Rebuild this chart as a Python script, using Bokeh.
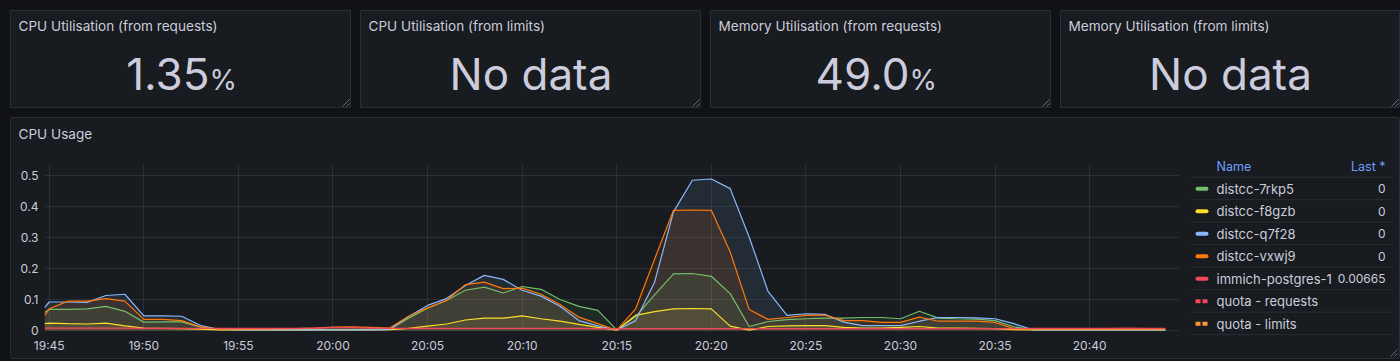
import pandas as pd
from bokeh.plotting import figure
from bokeh.layouts import row, column
from bokeh.models import (Range1d, FixedTicker, DatetimeTickFormatter, CustomJSTickFormatter,
                          GlobalInlineStyleSheet)
from bokeh.embed import file_html
from bokeh.resources import INLINE
from bokeh.core.properties import value

# ---------------- data ----------------
stat_titles = ["CPU Utilisation (from requests)", "CPU Utilisation (from limits)",
               "Memory Utilisation (from requests)", "Memory Utilisation (from limits)"]
stat_values = ["1.35", "No data", "49.0", "No data"]
stat_units = ["%", "", "%", ""]
chart_title = "CPU Usage"

day = "2024-01-01 "
times = [pd.Timestamp(day + "19:44:45")] + list(pd.date_range(day + "19:45", day + "20:44", freq="1min"))

# index 0 = 19:44:45, then 19:45 ... 20:44 every minute
distcc_7rkp5 = [0.058,
    0.068, 0.068, 0.070, 0.078, 0.062, 0.027, 0.028, 0.028, 0.011, 0.003,
    0.003, 0.002, 0.002, 0.003, 0.003, 0.004, 0.004, 0.004, 0.004, 0.040,
    0.072, 0.097, 0.130, 0.140, 0.121, 0.142, 0.133, 0.100, 0.078, 0.065,
    0.002, 0.045, 0.115, 0.183, 0.184, 0.175, 0.119, 0.013, 0.029, 0.035,
    0.038, 0.040, 0.040, 0.042, 0.042, 0.038, 0.062, 0.040, 0.038, 0.037,
    0.032, 0.012, 0.002, 0.002, 0.002, 0.002, 0.002, 0.002, 0.002, 0.002]
distcc_f8gzb = [0.022,
    0.024, 0.022, 0.021, 0.024, 0.015, 0.008, 0.007, 0.006, 0.004, 0.002,
    0.002, 0.002, 0.002, 0.002, 0.002, 0.002, 0.002, 0.002, 0.003, 0.007,
    0.014, 0.021, 0.034, 0.040, 0.040, 0.047, 0.038, 0.030, 0.020, 0.010,
    0.001, 0.049, 0.061, 0.070, 0.071, 0.070, 0.014, 0.001, 0.013, 0.015,
    0.016, 0.016, 0.010, 0.008, 0.008, 0.010, 0.013, 0.008, 0.008, 0.007,
    0.006, 0.003, 0.002, 0.002, 0.002, 0.002, 0.002, 0.002, 0.002, 0.002]
distcc_q7f28 = [0.074,
    0.092, 0.092, 0.091, 0.113, 0.117, 0.047, 0.047, 0.046, 0.016, 0.004,
    0.002, 0.002, 0.002, 0.002, 0.002, 0.002, 0.002, 0.002, 0.003, 0.045,
    0.081, 0.103, 0.145, 0.178, 0.165, 0.130, 0.111, 0.078, 0.032, 0.015,
    0.001, 0.032, 0.156, 0.383, 0.485, 0.489, 0.458, 0.302, 0.126, 0.049,
    0.054, 0.052, 0.027, 0.016, 0.016, 0.016, 0.030, 0.042, 0.042, 0.041,
    0.038, 0.022, 0.002, 0.002, 0.002, 0.002, 0.002, 0.002, 0.002, 0.002]
distcc_vxwj9 = [0.048,
    0.070, 0.095, 0.095, 0.103, 0.095, 0.036, 0.036, 0.032, 0.012, 0.004,
    0.004, 0.004, 0.005, 0.006, 0.008, 0.011, 0.012, 0.010, 0.008, 0.046,
    0.073, 0.097, 0.148, 0.156, 0.135, 0.137, 0.117, 0.084, 0.043, 0.022,
    0.001, 0.070, 0.230, 0.388, 0.389, 0.388, 0.253, 0.068, 0.036, 0.042,
    0.049, 0.050, 0.032, 0.032, 0.026, 0.026, 0.043, 0.030, 0.030, 0.030,
    0.026, 0.006, 0.004, 0.004, 0.004, 0.004, 0.004, 0.004, 0.004, 0.004]
immich_postgres_1 = [0.008,
    0.008, 0.008, 0.008, 0.008, 0.008, 0.007, 0.007, 0.007, 0.007, 0.007,
    0.007, 0.007, 0.007, 0.007, 0.008, 0.009, 0.009, 0.008, 0.007, 0.007,
    0.007, 0.007, 0.007, 0.007, 0.007, 0.007, 0.007, 0.007, 0.007, 0.006,
    0.006, 0.006, 0.006, 0.006, 0.006, 0.006, 0.006, 0.006, 0.006, 0.006,
    0.006, 0.006, 0.006, 0.006, 0.006, 0.006, 0.006, 0.006, 0.006, 0.006,
    0.006, 0.006, 0.007, 0.007, 0.007, 0.007, 0.007, 0.008, 0.007, 0.00665]

series_names = ["distcc-7rkp5", "distcc-f8gzb", "distcc-q7f28", "distcc-vxwj9", "immich-postgres-1"]
series_values = [distcc_7rkp5, distcc_f8gzb, distcc_q7f28, distcc_vxwj9, immich_postgres_1]
legend_names = series_names + ["quota - requests", "quota - limits"]
legend_last = ["0", "0", "0", "0", "0.00665", "", ""]

y_ticks = [0, 0.1, 0.2, 0.3, 0.4, 0.5]
x_tick_times = list(pd.date_range(day + "19:45", day + "20:40", freq="5min"))

# ---------------- style ----------------
PAGE = "#111217"
BG = "#181b1f"
BORDER = "#2b2e34"
TXT = "#ccccdc"
HEAD = "#6e9fff"
FONT = "Inter"
series_colors = ["#73bf69", "#fade2a", "#8ab8ff", "#ff780a", "#f2495c"]
legend_colors = series_colors + ["#f2495c", "#ff9830"]
legend_dashed = [False] * 5 + [True, True]

GAP = 9
stat_widths = [341, 341, 341, 340]
SH = 98
MH = 240          # inner height of the time-series panel
TH = 28           # title strip height
CW = 1176         # chart part width
LW = 212          # legend part width


def blank(fig):
    fig.axis.visible = False
    fig.grid.visible = False
    fig.background_fill_color = BG
    fig.border_fill_color = BG
    fig.frame_align = False


# ---------------- stat panels ----------------
stats = []
for i, SW in enumerate(stat_widths):
    s = figure(width=SW, height=SH, x_range=Range1d(0, SW), y_range=Range1d(SH, 0),
               output_backend="svg", toolbar_location=None, min_border=0)
    blank(s)
    s.outline_line_color = BORDER
    s.text(x=[8], y=[15], text=[stat_titles[i]], text_font=value(FONT), text_font_size="13.6px",
           text_color=TXT, text_baseline="middle", text_align="left")
    if stat_units[i]:
        split = 199
        s.text(x=[split], y=[63.5], text=[stat_values[i]], text_font=value(FONT), text_font_size="44px",
               text_color=TXT, text_baseline="middle", text_align="right")
        s.text(x=[split], y=[69], text=[stat_units[i]], text_font=value(FONT), text_font_size="28px",
               text_color=TXT, text_baseline="middle", text_align="left")
    else:
        s.text(x=[SW / 2], y=[63.5], text=[stat_values[i]], text_font=value(FONT), text_font_size="44px",
               text_color=TXT, text_baseline="middle", text_align="center")
    s.segment(x0=[SW - 2, SW - 2], y0=[SH - 9, SH - 5], x1=[SW - 9, SW - 5], y1=[SH - 2, SH - 2],
              line_color=TXT, line_alpha=0.45, line_width=1)
    stats.append(s)

# ---------------- title strip of the time-series panel ----------------
tf = figure(width=CW, height=TH, x_range=Range1d(0, CW), y_range=Range1d(TH, 0),
            output_backend="svg", toolbar_location=None, min_border=0)
blank(tf)
tf.outline_line_color = None
tf.text(x=[7], y=[15], text=[chart_title], text_font=value(FONT), text_font_size="13.6px",
        text_color=TXT, text_baseline="middle", text_align="left")

# ---------------- time series ----------------
p = figure(width=CW, height=MH - TH, x_axis_type="datetime",
           x_range=Range1d(pd.Timestamp(day + "19:44:45"), pd.Timestamp(day + "20:44:45")),
           y_range=Range1d(-0.0032, 0.539),
           output_backend="svg", toolbar_location=None,
           min_border_left=33, min_border_right=8, min_border_top=45 - TH, min_border_bottom=27)
p.frame_align = False
p.background_fill_color = BG
p.border_fill_color = BG
p.outline_line_color = None

for vals, col in zip(series_values, series_colors):
    p.varea(x=times, y1=0, y2=vals, fill_color=col, fill_alpha=0.1)
for vals, col in zip(series_values, series_colors):
    p.line(x=times, y=vals, line_color=col, line_width=1.2)

p.xaxis.ticker = FixedTicker(ticks=[t.value // 10**6 for t in x_tick_times])
fmt = "%H:%M"
p.xaxis.formatter = DatetimeTickFormatter(seconds=fmt, minsec=fmt, minutes=fmt, hourmin=fmt, hours=fmt,
                                          days=fmt, months=fmt, years=fmt)
p.yaxis.ticker = FixedTicker(ticks=y_ticks)
p.yaxis.formatter = CustomJSTickFormatter(code="return tick == 0 ? '0' : tick.toFixed(1);")
for ax in (p.xaxis, p.yaxis):
    ax.axis_line_color = None
    ax.major_tick_line_color = None
    ax.minor_tick_line_color = None
    ax.major_tick_in = 0
    ax.major_tick_out = 0
    ax.minor_tick_out = 0
    ax.major_label_text_color = TXT
    ax.major_label_text_font = FONT
    ax.major_label_text_font_size = "12px"
    ax.major_label_standoff = 6
p.grid.grid_line_color = TXT
p.grid.grid_line_alpha = 0.1

# ---------------- legend table ----------------
lg = figure(width=LW, height=MH, x_range=Range1d(0, LW), y_range=Range1d(MH, 0),
            output_backend="svg", toolbar_location=None, min_border=0)
blank(lg)
lg.outline_line_color = None
head_y = 47.7
step = 22.5
rows_y = [head_y + step * (k + 1) for k in range(len(legend_names))]
sep_y = [head_y + 11 + step * k for k in range(len(legend_names) + 1)]
lg.segment(x0=[3] * len(sep_y), y0=sep_y, x1=[206] * len(sep_y), y1=sep_y, line_color=BORDER, line_width=1)
lg.text(x=[29], y=[head_y], text=["Name"], text_font=value(FONT), text_font_size="12.5px",
        text_color=HEAD, text_baseline="middle", text_align="left")
lg.text(x=[198], y=[head_y], text=["Last *"], text_font=value(FONT), text_font_size="12.5px",
        text_color=HEAD, text_baseline="middle", text_align="right")
lg.text(x=[29] * len(legend_names), y=rows_y, text=legend_names, text_font=value(FONT),
        text_font_size="13px", text_color=TXT, text_baseline="middle", text_align="left")
lg.text(x=[198] * len(legend_names), y=rows_y, text=legend_last, text_font=value(FONT),
        text_font_size="12px", text_color=TXT, text_baseline="middle", text_align="right")
for yy, col, dashed in zip(rows_y, legend_colors, legend_dashed):
    if dashed:
        lg.segment(x0=[8, 15], y0=[yy, yy], x1=[13, 20], y1=[yy, yy], line_color=col, line_width=4,
                   line_cap="butt")
    else:
        lg.segment(x0=[10], y0=[yy], x1=[19], y1=[yy], line_color=col, line_width=4, line_cap="round")
lg.segment(x0=[LW - 2, LW - 2], y0=[MH - 9, MH - 5], x1=[LW - 9, LW - 5], y1=[MH - 2, MH - 2],
           line_color=TXT, line_alpha=0.45, line_width=1)

left_part = column(tf, p, spacing=0)
main = row(left_part, lg, spacing=0, styles={"border": "1px solid " + BORDER, "border-radius": "2px",
                                             "background-color": BG})
top = row(*stats, spacing=GAP)
root = column(top, main, spacing=GAP)
root.margin = (10, 0, 0, 10)
root.stylesheets = [GlobalInlineStyleSheet(css="html, body { background-color: %s; overflow: hidden; }" % PAGE)]

open("out.html", "w").write(file_html(root, INLINE))
